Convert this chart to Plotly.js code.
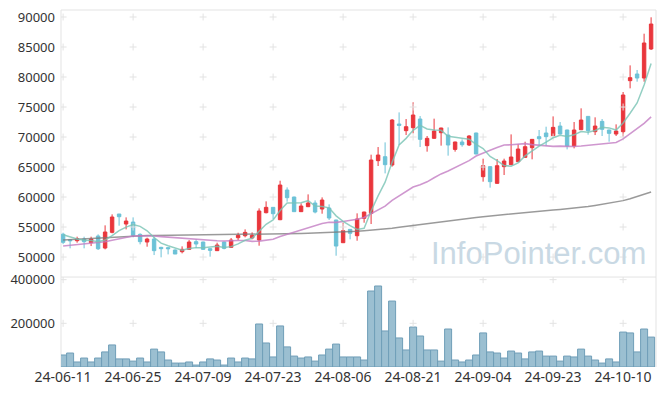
<!DOCTYPE html>
<html>
<head>
<meta charset="utf-8">
<script src="https://cdn.plot.ly/plotly-3.0.1.min.js"></script>
<style>html,body{margin:0;padding:0;background:#fff;}#chart{width:665px;height:396px;}</style>
</head>
<body>
<div id="chart"></div>
<script>
const dates = ["24-06-11","24-06-12","24-06-13","24-06-14","24-06-17","24-06-18","24-06-19","24-06-20","24-06-21","24-06-24",
"24-06-25","24-06-26","24-06-27","24-06-28","24-07-01","24-07-02","24-07-03","24-07-04","24-07-05","24-07-08",
"24-07-09","24-07-10","24-07-11","24-07-12","24-07-15","24-07-16","24-07-17","24-07-18","24-07-19","24-07-22",
"24-07-23","24-07-24","24-07-25","24-07-26","24-07-29","24-07-30","24-07-31","24-08-01","24-08-02","24-08-05",
"24-08-06","24-08-07","24-08-08","24-08-09","24-08-12","24-08-13","24-08-14","24-08-16","24-08-19","24-08-20",
"24-08-21","24-08-22","24-08-23","24-08-26","24-08-27","24-08-28","24-08-29","24-08-30","24-09-02","24-09-03",
"24-09-04","24-09-05","24-09-06","24-09-09","24-09-10","24-09-11","24-09-12","24-09-13","24-09-19","24-09-20",
"24-09-23","24-09-24","24-09-25","24-09-26","24-09-27","24-09-30","24-10-02","24-10-04","24-10-07","24-10-08",
"24-10-10","24-10-11","24-10-14","24-10-15","24-10-16"];

const open = [53800,52880,52720,53000,52390,53500,51500,54110,57170,55500,
55830,53780,52500,53000,51610,51560,51170,50890,51280,52560,
52500,51390,51060,52500,51610,53220,53550,53170,52830,57390,
58280,56220,61170,60000,57560,58390,59000,58000,58170,56170,
52390,54610,53550,56450,57280,66060,66720,65330,72170,71060,
71560,73000,68560,69780,70720,70330,67940,69170,68670,70670,
63390,65060,62280,65060,65390,65890,66610,68220,70060,70670,
70220,71830,71170,68500,71220,73440,70890,72610,71170,70500,
70890,79390,80500,79830,84670];
const high = [54050,52950,53390,53390,53390,53780,55280,57110,57170,56610,
56610,53950,53220,53390,51700,51650,51280,51780,52830,52950,
52550,51450,52390,52550,53170,54050,54610,54110,58110,59280,
58330,62720,61610,60050,58940,60440,59440,59940,58780,56220,
55720,54660,57280,57550,67060,68330,69110,73000,74110,73000,
75780,73500,70170,73060,71550,71610,69220,69610,70300,70720,
66390,65110,66330,66390,70440,68780,69220,69660,71170,71720,
73440,72500,71220,72500,74780,73500,73280,73000,71220,72110,
77500,81940,81170,87220,89950];
const low = [52150,51450,52390,51450,51830,51170,51280,53950,55220,54610,
53280,52110,51720,50330,49950,50440,50500,50610,51170,51500,
51170,50060,51000,51280,51550,52830,53280,52950,51890,57280,
56330,56150,59220,57500,57500,58330,57280,57220,56170,50220,
52330,52950,52720,55720,55500,65170,63940,65060,68670,70330,
70610,68330,67560,69720,68560,66890,67560,68390,68500,67120,
62560,61560,62220,63670,65330,65830,66550,66280,68560,68560,
70160,70440,67940,68110,71160,70390,70330,70170,69220,70170,
70060,78110,79220,79220,84500];
const close = [52450,52720,53050,52550,53000,51380,54170,56670,56720,56000,
53610,52560,53000,51060,51390,51390,50500,51280,52500,52170,
51280,51110,52000,51440,52830,53610,54110,53610,57670,58280,
57220,62000,59890,57560,58500,59000,57500,59500,56500,51830,
54390,53950,56330,57500,66170,67000,65390,72830,71940,71720,
73670,69610,69780,71000,71500,68670,69170,68720,70170,67170,
65220,62560,65220,66000,66670,68000,68390,69610,69720,70060,
71610,70500,68500,71170,72830,71060,71830,71280,70610,71000,
77000,79890,79830,85670,88830];

const ma5 = [53700,53300,53000,52800,52754,52540,52830,53554,54388,54988,
55434,55112,54378,53246,52324,51880,51468,51124,51412,51568,
51546,51668,51812,51600,51732,52198,52798,53120,54366,55456,
56178,57756,59012,58990,59034,59390,58490,58412,58200,56866,
55944,55234,54600,54800,57668,60190,62478,65778,68666,69776,
71110,71954,71344,71156,71112,70112,70024,69812,69646,68780,
68090,66768,66068,65234,65134,65690,66856,67734,68478,69156,
69878,70300,70078,70368,70922,70812,71078,71634,71522,71156,
72344,73956,75666,78678,82244];
const ma20 = [51850,51950,52050,52150,52250,52400,52550,52800,53050,53300,
53500,53550,53550,53500,53400,53300,53200,53100,53000,52909,
52850,52770,52717,52662,52653,52765,52762,52609,52656,52770,
52951,53423,53767,54092,54448,54828,55178,55589,55789,55772,
55928,56070,56286,56589,57256,57926,58490,59451,60164,60836,
61659,62039,62534,63206,63856,64339,64923,65384,66067,66834,
67376,67806,68251,68676,68701,68751,68901,68740,68629,68546,
68443,68487,68423,68432,68498,68618,68751,68879,68901,69092,
69681,70547,71278,72261,73369];
const ma60 = [52830,52900,52980,53050,53120,53200,53280,53350,53420,53480,
53530,53560,53580,53600,53610,53620,53630,53640,53650,53660,
53670,53680,53690,53700,53710,53720,53730,53740,53760,53780,
53800,53830,53860,53890,53920,53950,53980,54010,54040,54070,
54100,54190,54280,54370,54460,54550,54650,54800,54950,55110,
55260,55420,55570,55730,55880,56040,56200,56350,56480,56600,
56730,56850,56980,57100,57200,57300,57410,57510,57620,57720,
57830,57930,58040,58140,58250,58420,58600,58780,58980,59180,
59400,59720,60050,60420,60830];
const volume = [55000,64000,23000,41000,23000,41000,69000,101000,37000,37000,
27000,41000,23000,82000,69000,32000,18000,18000,23000,9000,
23000,37000,32000,9000,41000,23000,41000,37000,197000,110000,
46000,188000,92000,50000,41000,46000,27000,55000,82000,105000,
46000,46000,46000,32000,348000,371000,165000,302000,133000,78000,
183000,142000,78000,78000,27000,174000,32000,23000,32000,55000,
156000,69000,64000,41000,73000,64000,37000,69000,73000,50000,
50000,27000,50000,46000,82000,50000,32000,18000,37000,23000,
160000,156000,69000,174000,137000];

const tickDates = ["24-06-11","24-06-25","24-07-09","24-07-23","24-08-06","24-08-21","24-09-04","24-09-23","24-10-10"];
const priceTicks = [50000,55000,60000,65000,70000,75000,80000,85000,90000];
const volTicks = [200000,400000];

const RED = '#e9363c', CYAN = '#6cc2d7';
const tickFont = {family:'Noto Sans, sans-serif', size:13, color:'#333'};

// grid "+" marks at tick intersections
const gx = [], gy = [], vx = [], vy = [];
tickDates.forEach(d => { priceTicks.forEach(p => { gx.push(d); gy.push(p); }); volTicks.forEach(v => { vx.push(d); vy.push(v); }); });
const crossMarker = {symbol:'cross-thin', size:5, color:'#e3e3e3', line:{color:'#e3e3e3', width:1}};

const traces = [
  {type:'scatter', mode:'markers', x:gx, y:gy, xaxis:'x', yaxis:'y', hoverinfo:'skip', showlegend:false, marker:crossMarker},
  {type:'scatter', mode:'markers', x:vx, y:vy, xaxis:'x', yaxis:'y2', hoverinfo:'skip', showlegend:false, marker:crossMarker},
  {type:'candlestick', x:dates, open:open, high:high, low:low, close:close, xaxis:'x', yaxis:'y',
   increasing:{line:{color:RED, width:1}, fillcolor:RED},
   decreasing:{line:{color:CYAN, width:1}, fillcolor:CYAN},
   whiskerwidth:0, hoverinfo:'skip', showlegend:false},
  {type:'bar', x:dates, y:volume, xaxis:'x', yaxis:'y2', hoverinfo:'skip', showlegend:false,
   marker:{color:'rgb(155,191,209)', line:{color:'rgb(112,158,184)', width:1}}},
  {type:'scatter', mode:'lines', x:dates, y:ma60, xaxis:'x', yaxis:'y', hoverinfo:'skip', showlegend:false,
   line:{color:'rgba(120,120,120,0.75)', width:1.5}},
  {type:'scatter', mode:'lines', x:dates, y:ma20, xaxis:'x', yaxis:'y', hoverinfo:'skip', showlegend:false,
   line:{color:'rgba(195,125,195,0.8)', width:1.6}},
  {type:'scatter', mode:'lines', x:dates, y:ma5, xaxis:'x', yaxis:'y', hoverinfo:'skip', showlegend:false,
   line:{color:'rgba(120,195,180,0.8)', width:1.5}}
];

const layout = {
  width:665, height:396,
  margin:{l:61, r:9, t:10, b:29, pad:0},
  paper_bgcolor:'#ffffff', plot_bgcolor:'#ffffff',
  showlegend:false, bargap:0, hovermode:false,
  xaxis:{type:'category', categoryorder:'array', categoryarray:dates, range:[-0.3, 84.7], anchor:'y2',
    tickmode:'array', tickvals:tickDates, ticktext:tickDates,
    showgrid:false, zeroline:false, showline:false, ticks:'', tickfont:{family:'Noto Sans, sans-serif', size:14, color:'#333'},
    rangeslider:{visible:false}, fixedrange:true},
  yaxis:{domain:[0.252,1], range:[46667,91167], tickmode:'array', tickvals:priceTicks, tickformat:'d',
    showgrid:false, zeroline:false, showline:false, ticks:'', tickfont:tickFont, ticklabelstandoff:5, fixedrange:true},
  yaxis2:{domain:[0,0.252], range:[0,412000], tickmode:'array', tickvals:volTicks, tickformat:'d',
    showgrid:false, zeroline:false, showline:false, ticks:'', tickfont:tickFont, ticklabelstandoff:5, fixedrange:true},
  shapes:[
    {type:'rect', xref:'paper', yref:'paper', x0:0, x1:1, y0:0.252, y1:1, line:{color:'#e3e3e3', width:1}, layer:'below'},
    {type:'line', xref:'paper', yref:'paper', x0:0, x1:0, y0:0, y1:0.252, line:{color:'#e3e3e3', width:1}, layer:'below'},
    {type:'line', xref:'paper', yref:'paper', x0:1, x1:1, y0:0, y1:0.252, line:{color:'#e3e3e3', width:1}, layer:'below'}
  ],
  annotations:[
    {text:'InfoPointer.com', xref:'paper', yref:'paper', x:0.987, y:0.318, xanchor:'right', yanchor:'middle',
     showarrow:false, font:{family:'Liberation Sans, sans-serif', size:31, color:'#c9d9e4'}}
  ]
};

Plotly.newPlot('chart', traces, layout, {staticPlot:true, displayModeBar:false});
</script>
</body>
</html>
